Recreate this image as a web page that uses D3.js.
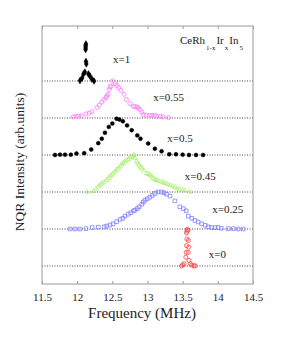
<!DOCTYPE html>
<html><head><meta charset="utf-8">
<script src="https://cdn.jsdelivr.net/npm/d3@7"></script>
<style>body{margin:0;background:#fff}svg{display:block}</style>
</head><body><svg id="c" width="282" height="341"></svg>
<script>
// ---- data ----
const xTicks = [11.5, 12, 12.5, 13, 13.5, 14, 14.5];
const seriesNames = ["x=0", "x=0.25", "x=0.45", "x=0.5", "x=0.55", "x=1"];
const offsets = [0, 1, 2, 3, 4, 5];
// [frequency MHz, normalized intensity]
const s_x0 = [[13.485,0.0],[13.50,0.03],[13.52,0.06],[13.545,0.24],[13.55,0.37],[13.555,0.55],[13.56,0.73],[13.555,0.89],[13.56,0.94],[13.565,0.99],[13.575,0.97],[13.58,0.69],[13.585,0.51],[13.58,0.37],[13.59,0.15],[13.61,0.06],[13.63,0.02],[13.66,0.0],[13.675,0.01]];
const s_x025 = [[11.90,0],[11.97,0],[12.04,0],[12.125,0.01],[12.215,0.04],[12.30,0.05],[12.386,0.06],[12.42,0.08],[12.467,0.11],[12.51,0.14],[12.56,0.20],[12.61,0.26],[12.65,0.29],[12.68,0.35],[12.727,0.40],[12.76,0.44],[12.80,0.49],[12.82,0.51],[12.855,0.55],[12.88,0.60],[12.92,0.67],[12.94,0.73],[12.965,0.78],[12.997,0.82],[13.035,0.86],[13.07,0.91],[13.105,0.96],[13.15,1.0],[13.20,1.0],[13.235,0.98],[13.27,0.94],[13.32,0.89],[13.39,0.76],[13.46,0.60],[13.51,0.55],[13.55,0.49],[13.58,0.35],[13.63,0.29],[13.675,0.23],[13.72,0.19],[13.77,0.14],[13.82,0.10],[13.865,0.06],[13.91,0.04],[13.96,0.04],[14.005,0.04],[14.05,0.02],[14.15,0.01],[14.22,0.01],[14.29,0],[14.36,0]];
const s_x045 = [[12.144,0],[12.23,0.02],[12.27,0.08],[12.30,0.14],[12.325,0.19],[12.35,0.23],[12.38,0.27],[12.42,0.32],[12.445,0.37],[12.467,0.42],[12.49,0.46],[12.51,0.50],[12.54,0.55],[12.555,0.60],[12.585,0.64],[12.61,0.69],[12.63,0.74],[12.655,0.78],[12.68,0.82],[12.70,0.86],[12.727,0.88],[12.75,0.93],[12.775,0.95],[12.80,0.98],[12.81,1.0],[12.82,0.91],[12.845,0.82],[12.865,0.77],[12.88,0.73],[12.90,0.68],[12.92,0.64],[12.95,0.58],[12.99,0.50],[13.01,0.48],[13.035,0.46],[13.06,0.42],[13.08,0.37],[13.105,0.34],[13.13,0.32],[13.155,0.30],[13.20,0.28],[13.225,0.26],[13.25,0.24],[13.285,0.21],[13.32,0.19],[13.355,0.16],[13.39,0.13],[13.425,0.10],[13.46,0.07],[13.50,0.05],[13.53,0.04],[13.60,0.0]];
const s_x05 = [[11.685,0],[11.756,0.01],[11.827,0.01],[11.91,0.01],[11.99,0.04],[12.10,0.05],[12.20,0.15],[12.30,0.32],[12.35,0.44],[12.395,0.60],[12.45,0.76],[12.50,0.85],[12.56,0.98],[12.60,0.96],[12.65,0.91],[12.71,0.80],[12.775,0.67],[12.855,0.53],[12.90,0.44],[13.01,0.31],[13.105,0.17],[13.20,0.10],[13.31,0.02],[13.405,0.02],[13.50,0.01],[13.59,0],[13.69,0],[13.79,0]];
const s_x055 = [[11.945,0.03],[11.983,0.05],[12.02,0.05],[12.06,0.06],[12.125,0.11],[12.17,0.13],[12.21,0.17],[12.28,0.28],[12.315,0.35],[12.35,0.43],[12.38,0.50],[12.41,0.55],[12.42,0.59],[12.44,0.64],[12.457,0.77],[12.467,0.84],[12.477,0.86],[12.505,1.0],[12.54,0.93],[12.56,0.88],[12.59,0.82],[12.62,0.75],[12.666,0.64],[12.70,0.50],[12.75,0.39],[12.80,0.32],[12.82,0.30],[12.855,0.30],[12.87,0.27],[12.89,0.23],[12.92,0.16],[12.94,0.09],[12.98,0.07],[13.03,0.07],[13.06,0.07],[13.10,0.07],[13.13,0.05],[13.18,0.05],[13.22,0.03],[13.30,0.01]];
const s_x1 = [[12.04,0.01],[12.07,0.08],[12.09,0.19],[12.11,0.24],[12.13,0.46],[12.125,0.53],[12.12,0.85],[12.12,0.89],[12.12,0.93],[12.12,0.97],[12.125,1.0],[12.18,0.14],[12.16,0.19],[12.21,0.05],[12.24,0.0]];
const seriesData = [s_x0, s_x025, s_x045, s_x05, s_x055, s_x1];
const seriesColors = ["#ff4040", "#8080ff", "#99ee55", "#000000", "#ff77ff", "#000000"];
const seriesShapes = ["circleOpen", "squareOpen", "triangleOpen", "circleFilled", "circleOpen", "diamondFilled"];
// label anchor positions [frequency, level]
const labelPos = [[13.87,0.23],[13.92,1.43],[13.53,2.32],[13.28,3.35],[13.08,4.47],[12.51,5.49]];

// ---- layout ----
const FONT = "'Liberation Serif','Times New Roman','DejaVu Serif',serif";
const L = 42, R = 253, T = 26, B = 284;
const svg = d3.select("#c");
const x = d3.scaleLinear().domain([11.5, 14.5]).range([L, R]);
const y = d3.scaleLinear().domain([-0.486, 6.486]).range([B, T]);

// baselines
svg.append("g").selectAll("line").data(offsets).join("line")
  .attr("x1", L).attr("x2", R)
  .attr("y1", d => y(d)).attr("y2", d => y(d))
  .attr("stroke", "#333").attr("stroke-width", 0.9).attr("stroke-dasharray", "1,1.5");

// axes
const xb = d3.axisBottom(x).tickValues(xTicks).tickSize(-3).tickPadding(9).tickFormat(d3.format("~g"));
const gb = svg.append("g").attr("transform", `translate(0,${B})`).call(xb);
gb.attr("font-family", FONT).attr("font-size", 11);
gb.select(".domain").remove();
gb.selectAll("line").attr("stroke", "#999");
gb.selectAll("text").attr("fill", "#222");
const xt = d3.axisTop(x).tickValues(xTicks).tickSize(-3).tickFormat("");
const gt = svg.append("g").attr("transform", `translate(0,${T})`).call(xt);
gt.select(".domain").remove();
gt.selectAll("line").attr("stroke", "#999");

// frame
svg.append("rect").attr("x", L).attr("y", T).attr("width", R - L).attr("height", B - T)
  .attr("fill", "none").attr("stroke", "#aaa").attr("stroke-width", 1.2);

// markers
const sym = {
  circleOpen: d3.symbol().type(d3.symbolCircle).size(13),
  circleFilled: d3.symbol().type(d3.symbolCircle).size(12),
  squareOpen: d3.symbol().type(d3.symbolSquare).size(13),
  triangleOpen: d3.symbol().type(d3.symbolTriangle).size(9),
  diamondFilled: d3.symbol().type(d3.symbolDiamond).size(13)
};
seriesData.forEach((data, i) => {
  const shape = seriesShapes[i];
  const filled = shape.endsWith("Filled");
  svg.append("g").selectAll("path").data(data).join("path")
    .attr("d", sym[shape])
    .attr("transform", d => `translate(${x(d[0])},${y(d[1] + offsets[i])})`)
    .attr("fill", filled ? seriesColors[i] : "none")
    .attr("stroke", seriesColors[i])
    .attr("stroke-width", filled ? 0.5 : (shape === "triangleOpen" ? 0.6 : 0.8));
});

// series labels
svg.append("g").attr("font-family", FONT).selectAll("text").data(seriesNames).join("text")
  .attr("x", (d, i) => x(labelPos[i][0]))
  .attr("y", (d, i) => y(labelPos[i][1]))
  .attr("font-size", 11).attr("fill", "#222")
  .text(d => d);

// formula
const f = svg.append("text").attr("x", 180).attr("y", 43.5).attr("font-size", 11)
  .attr("font-family", FONT).attr("fill", "#222");
f.append("tspan").text("CeRh");
f.append("tspan").attr("font-size", 7).attr("dy", 6).attr("dx", 1).text("1-x");
f.append("tspan").attr("dy", -6).attr("dx", 1).text("Ir");
f.append("tspan").attr("font-size", 7).attr("dy", 6).attr("dx", 1).text("x");
f.append("tspan").attr("dy", -6).attr("dx", 1).text("In");
f.append("tspan").attr("font-size", 7).attr("dy", 6).attr("dx", 1).text("5");

// axis titles
svg.append("text").attr("x", 142).attr("y", 318).attr("text-anchor", "middle")
  .attr("font-family", FONT).attr("font-size", 15).attr("fill", "#222").text("Frequency (MHz)");
svg.append("text").attr("transform", `translate(24,162) rotate(-90)`).attr("text-anchor", "middle")
  .attr("font-family", FONT).attr("font-size", 13.5).attr("fill", "#222").text("NQR Intensity (arb.units)");
</script></body></html>
